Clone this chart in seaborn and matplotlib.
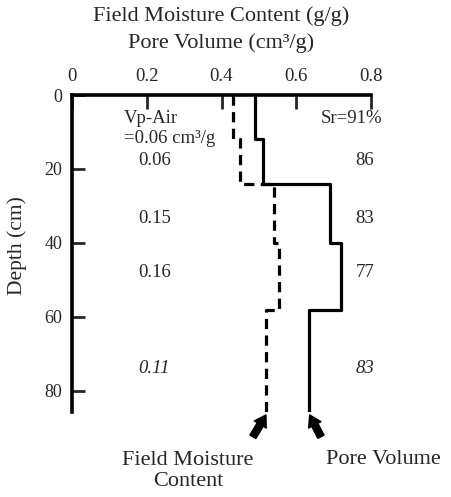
import numpy as np
import pandas as pd
import matplotlib.pyplot as plt
import seaborn as sns

# layer boundaries (cm) and values per layer
depth_breaks = [0, 12, 24, 40, 58, 85.7]
pore_volume = [0.49, 0.51, 0.69, 0.72, 0.635]
field_moisture = [0.43, 0.45, 0.54, 0.555, 0.52]
vp_air = ["0.06", "0.06", "0.15", "0.16", "0.11"]
sr = [91, 86, 83, 77, 83]
label_depth = [6.3, 17.6, 33.5, 48, 74]


def steps(vals):
    x = np.repeat(vals, 2)
    y = np.column_stack([depth_breaks[:-1], depth_breaks[1:]]).ravel()
    return pd.DataFrame({"x": x, "depth": y})


sns.set_style("white")
plt.rcParams['font.family'] = ['Liberation Serif', 'DejaVu Serif']

fig = plt.figure(figsize=(4.51, 4.97), dpi=100)
ax = fig.add_axes([72/451, 1-412/497, 299/451, 317/497])

sns.lineplot(data=steps(pore_volume), x="x", y="depth", sort=False, estimator=None,
             color="black", lw=2.3, ax=ax)
sns.lineplot(data=steps(field_moisture), x="x", y="depth", sort=False, estimator=None,
             color="black", lw=2.3, linestyle=(0, (3.2, 2)), ax=ax)

ax.set_xlim(0, 0.8)
ax.set_ylim(depth_breaks[-1], 0)
ax.xaxis.tick_top()
ax.set_xticks([0, 0.2, 0.4, 0.6, 0.8])
ax.set_xticklabels(["0", "0.2", "0.4", "0.6", "0.8"])
ax.set_yticks([0, 20, 40, 60, 80])
ax.tick_params(axis="x", direction="in", length=10, width=2, pad=7, labelsize=13.5, top=True, bottom=False)
ax.tick_params(axis="y", direction="in", length=9, width=2, pad=7, labelsize=13, left=True)
ax.set_xlabel("")
ax.set_ylabel("Depth (cm)", fontsize=15.5)
ax.yaxis.set_label_coords(-0.15, 0.524)
for s in ["right", "bottom"]:
    ax.spines[s].set_visible(False)
for s in ["top", "left"]:
    ax.spines[s].set_linewidth(2.6)
    ax.spines[s].set_color("black")

# layer annotations
fs = 13.5
ax.text(0.139, label_depth[0], "Vp-Air", fontsize=fs, va="center", ha="left")
ax.text(0.139, 11.7, "=0.06 cm³/g", fontsize=fs, va="center", ha="left")
ax.text(0.666, label_depth[0], "Sr=91%", fontsize=fs, va="center", ha="left")
for i in range(1, len(vp_air)):
    st = "italic" if i == len(vp_air) - 1 else "normal"
    ax.text(0.177, label_depth[i], vp_air[i], fontsize=fs, va="center", ha="left", style=st)
    ax.text(0.758, label_depth[i], str(sr[i]), fontsize=fs, va="center", ha="left", style=st)

# arrows pointing at the curves
arrow = dict(arrowstyle="simple,head_width=1.0,head_length=0.8,tail_width=0.5",
             color="black", shrinkA=0, shrinkB=0)
ax.annotate("", xy=(0.519, 86.5), xytext=(0.484, 92.4), annotation_clip=False, arrowprops=arrow)
ax.annotate("", xy=(0.636, 86.5), xytext=(0.666, 92.4), annotation_clip=False, arrowprops=arrow)
ax.text(0.31, 96.3, "Field Moisture\nContent", fontsize=16, ha="center", va="top",
        linespacing=1.15, clip_on=False)
ax.text(0.832, 98.6, "Pore Volume", fontsize=16, ha="center", va="center", clip_on=False)

fig.text(221/451, 1-16/497, "Field Moisture Content (g/g)", fontsize=16, ha="center", va="center")
fig.text(221/451, 1-43/497, "Pore Volume (cm³/g)", fontsize=16, ha="center", va="center")

fig.savefig("out.png", dpi=100)
